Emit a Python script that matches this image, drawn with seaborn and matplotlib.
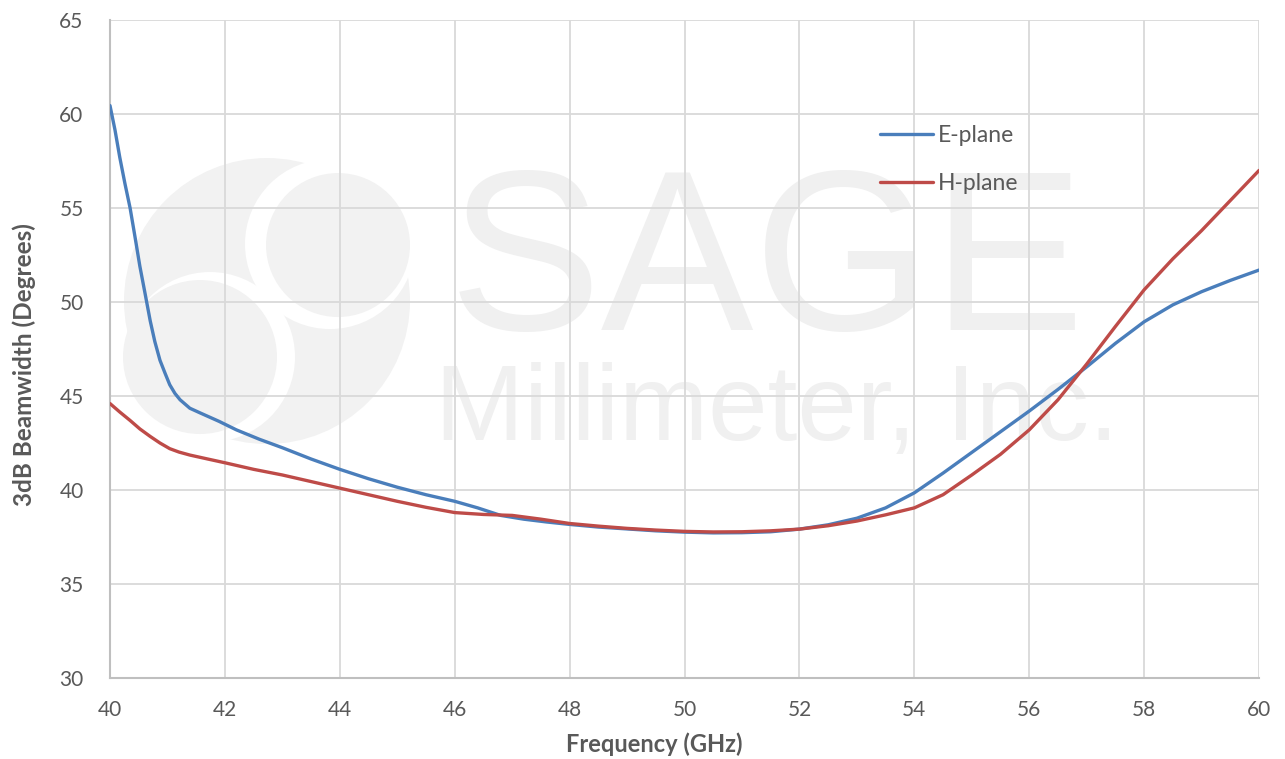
import pandas as pd
import seaborn as sns
import matplotlib.pyplot as plt
from matplotlib.ticker import MultipleLocator
from matplotlib.patches import Ellipse

# E-plane beamwidth
e_freq = [40, 40.087, 40.17, 40.26, 40.35, 40.435, 40.52, 40.61, 40.7, 40.78, 40.87,
          40.96, 41.04, 41.13, 41.22, 41.39, 41.57, 41.9,
          42.2, 42.6, 43, 43.5, 44, 44.5, 45, 45.5, 46, 46.4, 46.8, 47.2, 47.6,
          48, 48.5, 49, 49.5, 50, 50.5, 51, 51.5, 52, 52.5, 53, 53.5, 54, 54.5,
          55, 55.5, 56, 56.5, 57, 57.5, 58, 58.5, 59, 59.5, 60]
e_bw = [60.45, 59.15, 57.7, 56.3, 55.0, 53.47, 51.9, 50.46, 49.0, 47.9, 46.9,
        46.2, 45.6, 45.14, 44.8, 44.35, 44.1, 43.65,
        43.2, 42.7, 42.25, 41.65, 41.1, 40.6, 40.15, 39.75, 39.4, 39.05, 38.65, 38.45, 38.3,
        38.17, 38.03, 37.93, 37.83, 37.76, 37.72, 37.73, 37.78, 37.92, 38.15, 38.5, 39.05, 39.85, 40.9,
        42.0, 43.1, 44.2, 45.35, 46.55, 47.8, 48.95, 49.85, 50.55, 51.15, 51.7]

# H-plane
h_freq = [40, 40.17, 40.35, 40.52, 40.7, 40.87, 41.04, 41.2, 41.39, 41.7, 42, 42.5,
          43, 43.5, 44, 44.5, 45, 45.5, 46, 46.5, 47, 47.5, 48, 48.5, 49, 49.5, 50,
          50.5, 51, 51.5, 52, 52.5, 53, 53.5, 54, 54.5, 55, 55.5, 56, 56.5, 57, 57.5,
          58, 58.5, 59, 59.5, 60]
h_bw = [44.6, 44.15, 43.7, 43.25, 42.85, 42.5, 42.2, 42.02, 41.86, 41.65, 41.45, 41.1,
        40.8, 40.45, 40.1, 39.75, 39.4, 39.08, 38.8, 38.7, 38.65, 38.45, 38.22, 38.08, 37.96, 37.87, 37.8,
        37.77, 37.78, 37.83, 37.92, 38.1, 38.35, 38.68, 39.05, 39.75, 40.8, 41.9, 43.2, 44.8, 46.7, 48.7,
        50.65, 52.3, 53.8, 55.4, 57.0]

df = pd.concat([
    pd.DataFrame({'freq': e_freq, 'bw': e_bw, 'plane': 'E-plane'}),
    pd.DataFrame({'freq': h_freq, 'bw': h_bw, 'plane': 'H-plane'}),
])

sns.set_theme(style='white')
plt.rcParams['font.family'] = ['Lato', 'DejaVu Sans']

txt = '#595959'
grey = '#bfbfbf'
wm = '#f2f2f2'

fig = plt.figure(figsize=(12.85, 7.59), dpi=100)
ax = fig.add_axes([0.0856, 0.1067, 0.8942, 0.8669])
AW, AH = 1149.0, 658.0


def disc(cx, cy, r, color):
    # circle given in figure pixels, drawn in axes coords
    ax.add_patch(Ellipse(((cx - 110) / AW, (678 - cy) / AH), 2 * r / AW, 2 * r / AH,
                         transform=ax.transAxes, facecolor=color, edgecolor='none', zorder=0))


# faint logo watermark (disc with a white S band)
disc(267, 301, 143, wm)
disc(330, 244, 85, 'white')
disc(338, 245, 72, wm)
disc(210, 357, 85, 'white')
disc(200, 357, 77, wm)

ax.text(0.295, 0.529, 'SAGE', transform=ax.transAxes, fontsize=165, color='#f0f0f0',
        family='Liberation Sans', zorder=0, va='baseline')
ax.text(0.283, 0.362, 'Millimeter, Inc.', transform=ax.transAxes, fontsize=77, color='#f0f0f0',
        family='Liberation Sans', zorder=0, va='baseline')

sns.lineplot(data=df, x='freq', y='bw', hue='plane', palette=['#4a7ebb', '#be4b48'],
             sort=False, estimator=None, linewidth=2.4, ax=ax, legend=False, zorder=3)

ax.set_xlim(40, 60)
ax.set_ylim(30, 65)
ax.xaxis.set_major_locator(MultipleLocator(2))
ax.xaxis.set_minor_locator(MultipleLocator(0.4))
ax.yaxis.set_major_locator(MultipleLocator(5))
ax.yaxis.set_minor_locator(MultipleLocator(1))
ax.set_axisbelow(True)
ax.grid(True, which='major', color='#d9d9d9', linewidth=1.3)

for s in ['top', 'right']:
    ax.spines[s].set_visible(False)
for s in ['left', 'bottom']:
    ax.spines[s].set_color(grey)
    ax.spines[s].set_linewidth(1.5)

ax.tick_params(which='both', direction='in', color=grey, width=1.3)
ax.tick_params(which='major', length=7, labelsize=15, labelcolor=txt)
ax.tick_params(which='minor', length=6)
ax.tick_params(axis='x', which='major', pad=16)
ax.tick_params(axis='y', which='major', pad=19)

ax.set_xlabel('Frequency (GHz)', fontsize=17, fontweight='bold', color=txt)
ax.set_ylabel('3dB Beamwidth (Degrees)', fontsize=17.5, fontweight='bold', color=txt)
ax.xaxis.set_label_coords(0.474, -0.083)
ax.yaxis.set_label_coords(-0.064, 0.476)

lines = ax.get_lines()
ax.legend(lines[:2], ['E-plane', 'H-plane'], frameon=False, fontsize=16.5, labelcolor=txt,
          loc='upper left', bbox_to_anchor=(0.652, 0.872), handlelength=2.3,
          handletextpad=0.25, labelspacing=1.2)

fig.savefig('out.png', dpi=100)
